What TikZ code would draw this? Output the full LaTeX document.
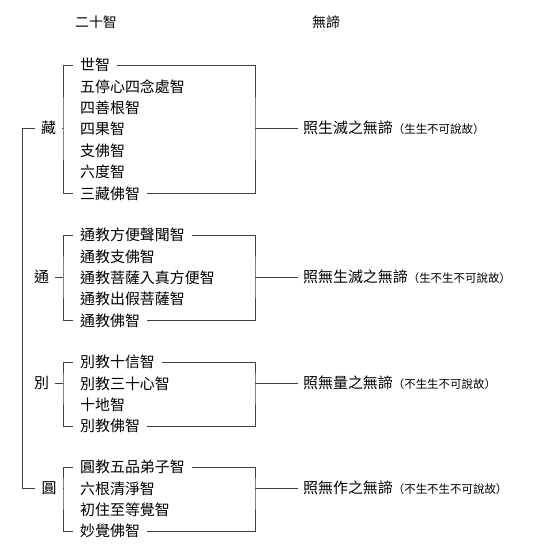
\documentclass[tikz,border=0pt]{standalone}
\usepackage{fontspec}
\setmainfont{Noto Sans CJK TC}
\usetikzlibrary{positioning}

\newcommand\cjkitem{\fontsize{15}{15}\selectfont}
\newcommand\cjkhead{\fontsize{14}{14}\selectfont}
\newcommand\smallnote[1]{{\fontsize{11.5}{11.5}\selectfont #1}}

\begin{document}
\begin{tikzpicture}[
    x=1bp, y=-1bp, node distance=0pt,
    head/.style={font=\cjkhead},
    item/.style={font=\cjkitem, inner xsep=7bp, inner ysep=0pt,
                 minimum height=21bp},
    teach/.style={font=\cjkitem, inner xsep=6bp, inner ysep=1bp},
    truth/.style={font=\cjkitem, anchor=west, inner xsep=5bp},
    line/.style={draw=black!75, line width=0.6pt}
]
  \useasboundingbox (0,0) rectangle (537,556);

  \node[head] (h1) at (96,22) {二十智};
  \node[head] (h2) at (326,22) {無諦};

  % 藏
  \node[teach] (zang) at (48.5,128) {藏};
  \node[item, anchor=west] (z1) at (73,65) {世智};
  \node[item, below right=0pt and 0pt of z1.south west] (z2) {五停心四念處智};
  \node[item, below right=0pt and 0pt of z2.south west] (z3) {四善根智};
  \node[item, below right=0pt and 0pt of z3.south west] (z4) {四果智};
  \node[item, below right=0pt and 0pt of z4.south west] (z5) {支佛智};
  \node[item, below right=0pt and 0pt of z5.south west] (z6) {六度智};
  \node[item, below right=0pt and 0pt of z6.south west] (z7) {三藏佛智};
  \node[truth] (rz) at (298,128) {照生滅之無諦\smallnote{（生生不可說故）}};

  % 通
  \node[teach] (tong) at (41.5,277) {通};
  \node[item, anchor=west] (t1) at (73,235) {通教方便聲聞智};
  \node[item, below right=0pt and 0pt of t1.south west] (t2) {通教支佛智};
  \node[item, below right=0pt and 0pt of t2.south west] (t3) {通教菩薩入真方便智};
  \node[item, below right=0pt and 0pt of t3.south west] (t4) {通教出假菩薩智};
  \node[item, below right=0pt and 0pt of t4.south west] (t5) {通教佛智};
  \node[truth] (rt) at (298,277) {照無生滅之無諦\smallnote{（生不生不可說故）}};

  % 別
  \node[teach] (bie) at (41.5,383) {別};
  \node[item, anchor=west] (b1) at (73,362) {別教十信智};
  \node[item, below right=0pt and 0pt of b1.south west] (b2) {別教三十心智};
  \node[item, below right=0pt and 0pt of b2.south west] (b3) {十地智};
  \node[item, below right=0pt and 0pt of b3.south west] (b4) {別教佛智};
  \node[truth] (rb) at (298,383) {照無量之無諦\smallnote{（不生生不可說故）}};

  % 圓
  \node[teach] (yuan) at (49,488) {圓};
  \node[item, anchor=west] (y1) at (73,467) {圓教五品弟子智};
  \node[item, below right=0pt and 0pt of y1.south west] (y2) {六根清淨智};
  \node[item, below right=0pt and 0pt of y2.south west] (y3) {初住至等覺智};
  \node[item, below right=0pt and 0pt of y3.south west] (y4) {妙覺佛智};
  \node[truth] (ry) at (298,488) {照無作之無諦\smallnote{（不生不生不可說故）}};

  % brackets
  \coordinate (zl) at (63,128);  \coordinate (zr) at (255,128);
  \coordinate (tl) at (63,277);  \coordinate (tr) at (255,277);
  \coordinate (bl) at (63,383);  \coordinate (br) at (255,383);
  \coordinate (yl) at (63,488);  \coordinate (yr) at (255,488);
  \coordinate (top) at (22,128); \coordinate (bot) at (22,488);

  \draw[line] (z1.west) -| (zl) |- (z7.west);
  \draw[line] (z1.east) -| (zr) |- (z7.east);
  \draw[line] (zang) -- (zl);
  \draw[line] (zr) -- (rz.west);

  \draw[line] (t1.west) -| (tl) |- (t5.west);
  \draw[line] (t1.east) -| (tr) |- (t5.east);
  \draw[line] (tong) -- (tl);
  \draw[line] (tr) -- (rt.west);

  \draw[line] (b1.west) -| (bl) |- (b4.west);
  \draw[line] (b1.east) -| (br) |- (b4.east);
  \draw[line] (bie) -- (bl);
  \draw[line] (br) -- (rb.west);

  \draw[line] (y1.west) -| (yl) |- (y4.west);
  \draw[line] (y1.east) -| (yr) |- (y4.east);
  \draw[line] (yuan) -- (yl);
  \draw[line] (yr) -- (ry.west);

  \draw[line] (zang.west) -- (top) -- (bot) -- (yuan.west);
\end{tikzpicture}
\end{document}
